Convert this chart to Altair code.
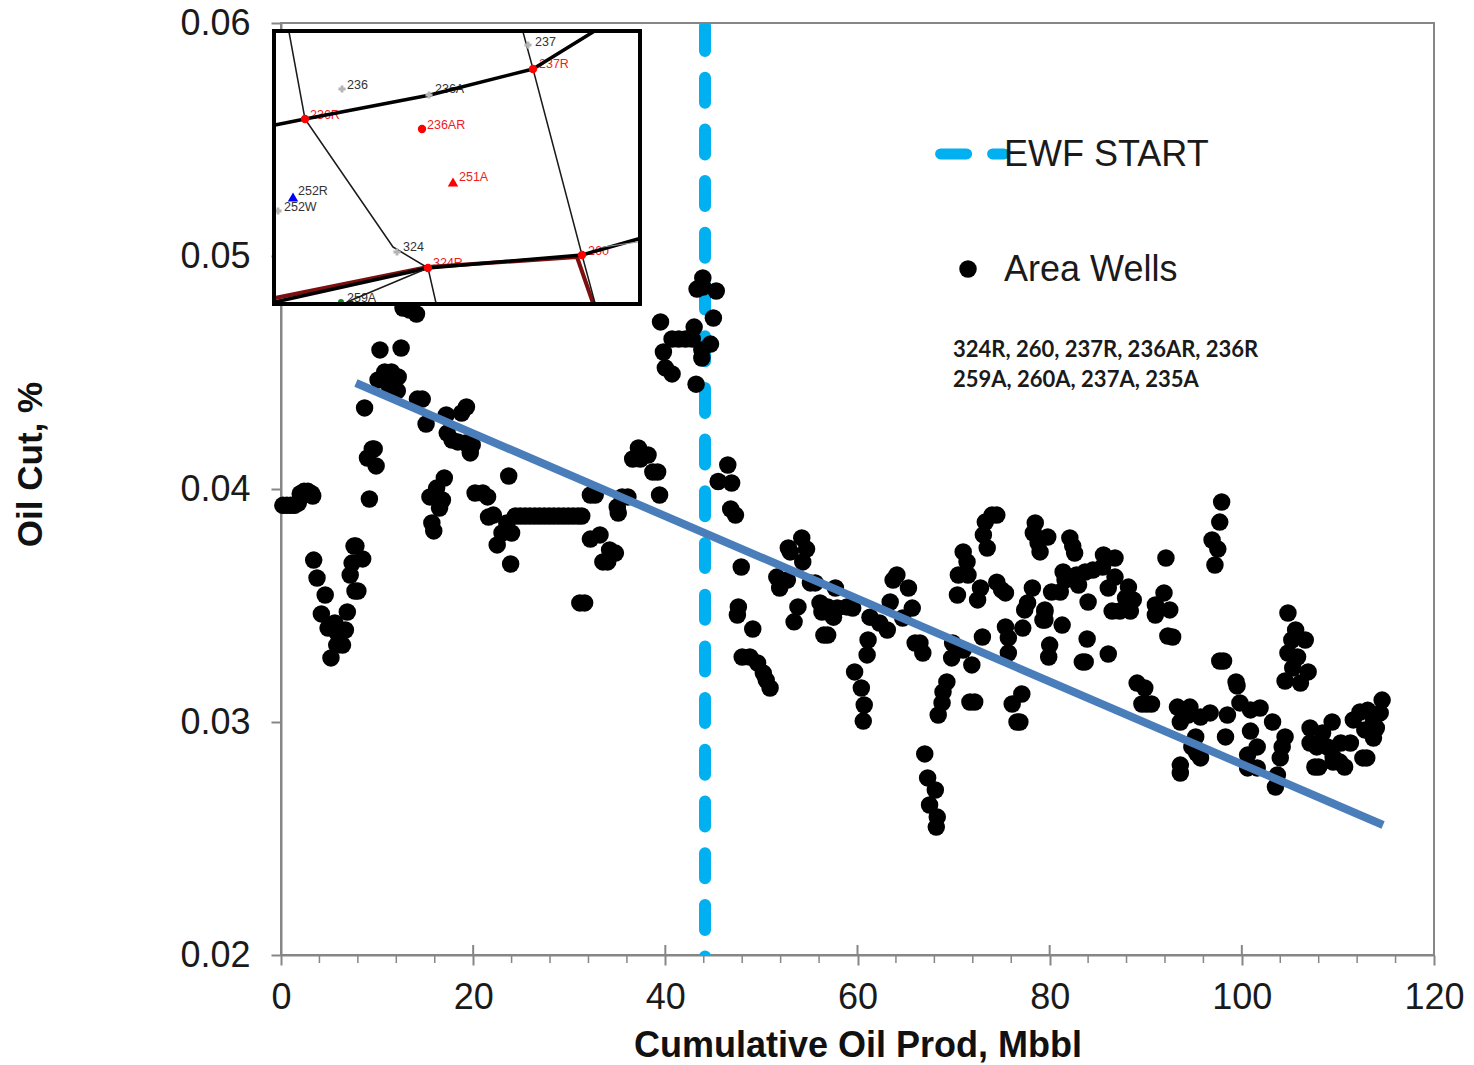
import altair as alt
import pandas as pd

# ---------- well scatter, (cumulative oil Mbbl, oil cut %) ----------
wells_early = [(0.2,.0393),(0.6,.0393),(1.0,.0393),(1.4,.0393),(1.8,.0394),(2.0,.0398),(2.4,.0399),(2.8,.0399),(3.2,.0398),(3.3,.0397),
 (3.4,.03695),(3.75,.03618),(4.6,.03545),(4.2,.03464),(4.9,.03403),(5.6,.03425),(5.8,.0333),(5.2,.03275),(6.7,.03395),(6.9,.03472),
 (6.4,.0333),(5.9,.0338),(8.0,.03562),(7.7,.03562),(7.2,.03631),(7.4,.03682),(8.5,.037),(7.6,.03755),(7.8,.03755),
 (9.2,.03957),(9.9,.04099),(9.0,.04133),(9.5,.04172),(9.7,.04172),(8.7,.04348),(10.3,.04597),(12.5,.04605),(10.1,.04468),
 (10.8,.04502),(11.5,.04502),(12.2,.04481),(11.1,.04468),(12.1,.04421),(11.3,.04438),(12.7,.04777),(13.4,.04768),(14.1,.04751)]
wells_rise = [(14.7,.04386),(14.2,.04386),(15.1,.04279),(17.2,.04318),(19.3,.04352),(18.8,.04326),(17.3,.0424),(17.8,.0421),
 (18.4,.04202),(19.2,.04197),(19.9,.04189),(19.7,.04155),(17.0,.04047),(16.2,.04004),(15.5,.03966),(16.8,.03953),(16.5,.03918),
 (15.7,.03854),(15.9,.0382),(20.2,.03983),(21.0,.03983),(21.5,.03966),(22.1,.03888),(21.6,.0388),(23.7,.04056),(24.0,.03811),
 (23.0,.03811),(22.5,.0376),(23.9,.03678),(23.5,.03854)]
wells_flat_x = [24.4,24.9,25.4,25.9,26.4,26.9,27.4,27.9,28.4,28.9,29.4,29.9,30.4,30.9,31.3]
wells_flat_y = [.03884]*15
wells_mid = [(32.7,.03974),(32.2,.03974),(32.2,.03785),(33.2,.03803),(34.8,.03725),(34.2,.03738),(33.5,.03687),(34.0,.03687),
 (31.6,.03511),(31.1,.03511),(36.1,.03966),(35.5,.03966),(35.1,.03897),(35.0,.03923),(37.2,.04176),(38.2,.04146),(36.6,.04129),
 (37.4,.04129),(38.7,.04073),(39.2,.04073),(39.4,.03974),(39.5,.04717),(43.0,.04695),(45.0,.04734),(40.7,.04644),(41.4,.04644),
 (42.1,.04644),(42.8,.04644),(39.8,.04588),(40.0,.0452),(40.7,.04494),(43.2,.0445),(43.8,.04562),(43.8,.04597),(44.7,.04622),
 (43.9,.04906),(43.9,.04867),(43.3,.04858),(45.3,.0485)]
wells_after = [(46.5,.04103),(45.5,.04032),(46.9,.04026),(46.8,.03914),(47.3,.03888),(47.9,.03665),(47.6,.03494),(47.5,.03459),
 (49.1,.03399),(48.0,.03279),(48.8,.03279),(49.6,.03253),(50.2,.0321),(50.9,.03146),(50.5,.0318),(52.8,.03747),(53.0,.0373),
 (54.2,.0379),(54.7,.03742),(54.3,.03687),(51.6,.03622),(52.7,.03609),(51.9,.03575),(53.8,.03494),(53.4,.0343),(55.1,.03597),
 (55.6,.03597),(57.7,.03575),(56.1,.03511),(56.9,.03494),(57.9,.03489),(56.3,.03472),(57.5,.0345),(58.9,.03494),(59.5,.03489),
 (56.9,.03373),(56.5,.03373),(64.1,.03631),(63.7,.03609),(65.3,.03575),(63.4,.03515),(61.3,.0345),(62.3,.03425),(63.1,.03395),
 (65.7,.03489),(64.7,.03446),(61.1,.03352),(61.0,.03288),(59.7,.03215),(60.4,.03146),(60.7,.03073),(60.6,.03004),(66.0,.03339),
 (66.5,.03339),(66.8,.03296),(67.0,.02863),(67.3,.0276),(68.1,.02708),(67.5,.02644),(68.3,.02592),(68.2,.02549),(69.3,.03172),
 (68.9,.03129),(68.8,.03082),(68.4,.0303),(69.9,.03339),(69.8,.03275),(71.0,.03309),(71.9,.03245),(73.0,.03365),(72.2,.03086),(71.7,.03086)]
wells_late = [(76.1,.03077),(77.1,.0312),(76.9,.03),(76.6,.03),(70.4,.03545),(71.0,.0373),(71.4,.03687),(70.5,.03631),(71.5,.03631),
 (72.8,.03575),(72.5,.03524),(73.5,.03747),(73.1,.03803),(73.3,.03858),(74.0,.03888),(74.5,.03888),(75.4,.03408),(75.7,.03361),
 (75.7,.03296),(74.5,.036),(75.0,.03567),(75.4,.03554),(77.2,.03403),(78.2,.03575),(77.7,.03511),(77.4,.03481),(79.5,.03472),
 (79.3,.03438),(80.0,.0333),(79.9,.03279),(78.5,.03854),(78.3,.03811),(78.8,.03768),(79.0,.0373),(79.8,.03794),(82.1,.0379),
 (82.6,.03725),(82.4,.03755),(81.4,.03644),(85.6,.03717),(86.8,.03704),(84.5,.03652),(83.7,.03644),(82.8,.03631),(85.5,.03665),
 (86.8,.03622),(86.1,.03575),(84.0,.03515),(83.0,.03588),(81.6,.03609),(80.2,.03558),(81.1,.03558),(79.5,.03481),(79.5,.03438),
 (81.3,.03416),(83.9,.03356),(86.1,.03292),(83.4,.03258),(83.7,.03258),(88.2,.03579),(88.7,.03524),(86.5,.03476),(87.3,.03476),
 (88.4,.03476),(87.9,.03532),(91.9,.03554),(91.0,.03502),(91.0,.03459),(92.5,.03481),(92.1,.03704),(92.8,.03365),(92.3,.03369)]
wells_end = [(97.9,.03944),(97.7,.03858),(96.9,.03781),(97.5,.03742),(97.2,.03674),(104.8,.03468),(105.6,.03395),(106.6,.03352),
 (105.2,.03352),(104.8,.03296),(105.8,.03279),(106.9,.03215),(105.3,.03232),(104.5,.03176),(106.1,.03167),(89.1,.03167),(89.9,.03146),
 (89.6,.03077),(90.6,.03077),(90.1,.03077),(98.1,.03262),(97.7,.03262),(99.4,.03172),(99.5,.03155),(93.3,.03064),(94.6,.03064),
 (93.9,.03039),(96.7,.03039),(95.7,.03021),(93.6,.03),(94.4,.0303),(95.2,.02936),(94.8,.02893),(95.7,.02846),(95.3,.02867),
 (93.6,.02815),(93.6,.02781),(98.3,.02936),(98.5,.0303),(99.8,.03082),(100.9,.03052),(101.9,.0306),(100.9,.02961),(103.2,.03),
 (104.5,.02936),(104.2,.02893),(104.0,.02846),(101.6,.02893),(100.6,.02858),(100.6,.02803),(101.6,.02803),(103.7,.02773),(103.5,.02721),
 (107.1,.02974),(109.4,.03),(108.4,.02953),(107.1,.0291),(107.8,.02893),(107.6,.02807),(108.0,.02807),(108.9,.02893),(109.5,.0285),
 (109.5,.02828),(110.7,.02807),(110.2,.02828),(111.3,.0291),(110.3,.0291),(112.6,.02846),(113.0,.02846),(113.7,.02931),(114.0,.02974),
 (111.6,.03009),(112.3,.03043),(113.1,.0305),(113.7,.03009),(112.8,.02966),(114.4,.03039),(114.6,.03094)]

trend_x = [7.8, 114.7]
trend_y = [.04455, .02558]
ewf_x = 44.13

x_major = [0, 20, 40, 60, 80, 100, 120]
x_minor = [4, 8, 12, 16, 24, 28, 32, 36, 44, 48, 52, 56, 64, 68, 72, 76, 84, 88, 92, 96, 104, 108, 112, 116]
y_major = [0.02, 0.03, 0.04, 0.05, 0.06]

# ---------- inset map, in the map's own units (origin top-left, 366 x 273) ----------
map_w, map_h = 366, 273
fault_thick = [[(1,94),(31,88),(156,64),(259,38),(319,1)],
               [(1,271),(154,237),(308,224),(364,208)]]
fault_thin = [[(15,1),(31,88),(119,216),(154,237),(162,272)],
              [(249,1),(259,38),(308,224),(321,272)],
              [(73,271),(154,237)]]
fault_gray = [[(329,216),(364,211)]]
fault_red = [[(1,267),(154,236),(303,226),(319,272)]]
red_wells = [(31,88),(148,98),(259,38),(154,237),(308,224)]
red_tri = [(179,151)]
blue_tri = [(19,166)]
green_wells = [(67,271)]
gray_wells = [(68,58),(155,64),(254,14),(123,221),(4,180)]
labels_dark = [("236",73,54),("236A",161,58),("237",261,11),("252R",24,160),("252W",10,176),("324",129,216),("259A",73,267)]
labels_red = [("237R",265,33),("236R",36,84),("236AR",153,94),("251A",185,146),("324R",159,232),("260",314,220)]

FONT = "Liberation Sans"
GRAY = "#868686"
xs = alt.Scale(domain=[0, 120], nice=False, zero=False)
ys = alt.Scale(domain=[0.02, 0.06], nice=False, zero=False)
x_axis = alt.Axis(
    values=x_major, title="Cumulative Oil Prod, Mbbl", grid=False, format="d",
    labelFont=FONT, labelFontSize=36, labelColor="#1a1a1a", labelPadding=15, labelFlush=False, labelOverlap=False,
    tickColor=GRAY, tickSize=10, tickWidth=2, domainColor=GRAY, domainWidth=2,
    titleFont=FONT, titleFontSize=36, titleFontWeight="bold", titleColor="#111111", titlePadding=13)
y_axis = alt.Axis(
    values=y_major, title="Oil Cut, %", grid=False, format=".2f",
    labelFont=FONT, labelFontSize=36, labelColor="#1a1a1a", labelPadding=21, labelOverlap=False,
    tickColor=GRAY, tickSize=10, tickWidth=2, domainColor=GRAY, domainWidth=2,
    titleFont=FONT, titleFontSize=35, titleFontWeight="bold", titleColor="#111111", titlePadding=131, titleY=441)
X = alt.X("x:Q", scale=xs, axis=x_axis)
Y = alt.Y("y:Q", scale=ys, axis=y_axis)

PX_X, PX_Y = 1153 / 120, 932 / 0.04
def mx(v): return (v - 7) / PX_X
def my(v): return 0.06 - (v + 8) / PX_Y
def map_df(pts): return pd.DataFrame({"x": [mx(p[0]) for p in pts], "y": [my(p[1]) for p in pts], "i": range(len(pts))})

def polylines(groups, color, width):
    return [alt.Chart(map_df(g)).mark_line(color=color, strokeWidth=width, strokeCap="round", strokeJoin="round", interpolate="linear")
            .encode(x=X, y=Y, order="i:Q") for g in groups]

def map_points(pts, shape, color, size):
    return alt.Chart(map_df(pts)).mark_point(shape=shape, filled=True, color=color, size=size, opacity=1, strokeWidth=0).encode(x=X, y=Y)

def map_text(rows, color):
    df = pd.DataFrame({"t": [r[0] for r in rows], "x": [mx(r[1]) for r in rows], "y": [my(r[2]) for r in rows]})
    return alt.Chart(df).mark_text(font=FONT, fontSize=12.5, color=color, align="left", baseline="middle").encode(x=X, y=Y, text="t:N")

base_df = pd.DataFrame({"x": [ewf_x], "y": [0.06], "y2": [0.0199]})
ewf = alt.Chart(base_df).mark_rule(color="#00b0f0", strokeWidth=12, strokeCap="round", strokeDash=[25, 26.7], strokeDashOffset=48.7, clip=True).encode(
    x=X, y=Y, y2="y2:Q")

minor_ticks = alt.Chart(pd.DataFrame({"x": x_minor})).mark_rule(color=GRAY, strokeWidth=1.5).encode(
    x=X, y=alt.value(932), y2=alt.value(940))
inner_ticks = alt.Chart(pd.DataFrame({"x": x_major[:-1]})).mark_rule(color=GRAY, strokeWidth=2).encode(
    x=X, y=alt.value(922), y2=alt.value(932))

all_wells = wells_early + wells_rise + list(zip(wells_flat_x, wells_flat_y)) + wells_mid + wells_after + wells_late + wells_end
wells_df = pd.DataFrame(all_wells, columns=["x", "y"])
wells = alt.Chart(wells_df).mark_circle(color="black", size=306, opacity=1).encode(x=X, y=Y)

trend = alt.Chart(pd.DataFrame({"x": trend_x, "y": trend_y})).mark_line(color="#4a7ebb", strokeWidth=8, strokeCap="butt").encode(x=X, y=Y)

box_df = pd.DataFrame({"x": [mx(0)], "x2": [mx(map_w)], "y": [my(0)], "y2": [my(map_h)]})
box_fill = alt.Chart(box_df).mark_rect(color="white").encode(x=X, x2="x2:Q", y=Y, y2="y2:Q")
box_edge = alt.Chart(box_df).mark_rect(fillOpacity=0, fill="white", stroke="black", strokeWidth=4).encode(x=X, x2="x2:Q", y=Y, y2="y2:Q")

legend_line = alt.Chart(pd.DataFrame({"x": [68.65, 75.25], "y": [0.05438, 0.05438]})).mark_line(
    color="#00b0f0", strokeWidth=11, strokeCap="round", strokeDash=[26, 26]).encode(x=X, y=Y)
legend_dot = alt.Chart(pd.DataFrame({"x": [71.5], "y": [0.04944]})).mark_circle(color="black", size=306, opacity=1).encode(x=X, y=Y)
legend_text = alt.Chart(pd.DataFrame({"t": ["EWF START", "Area Wells"], "x": [75.25, 75.25], "y": [0.05432, 0.04938]})).mark_text(
    font=FONT, fontSize=36, color="#1a1a1a", align="left", baseline="middle").encode(x=X, y=Y, text="t:N")
note_text = alt.Chart(pd.DataFrame({"t": ["324R, 260, 237R, 236AR, 236R", "259A, 260A, 237A, 235A"], "x": [69.94, 69.94], "y": [0.04597, 0.04468]})).mark_text(
    font="Lato", fontWeight="bold", fontSize=22, color="#1a1a1a", align="left", baseline="middle").encode(x=X, y=Y, text="t:N")

layers = [ewf, minor_ticks, inner_ticks, wells, trend, box_fill,
          map_text(labels_dark, "#333333"), map_text(labels_red, "#ee1c1c")]
layers += polylines(fault_red, "#7d0f0f", 4)
layers += polylines(fault_thick, "#000000", 3.5)
layers += polylines(fault_thin, "#1a1a1a", 1.5)
layers += polylines(fault_gray, "#999999", 1)
layers += [map_points(gray_wells, "cross", "#b5b5b5", 50),
           map_points(red_wells, "circle", "#ff0000", 70),
           map_points(red_tri, "triangle-up", "#ff0000", 110),
           map_points(blue_tri, "triangle-up", "#0000ff", 110),
           map_points(green_wells, "circle", "#0a8a0a", 36),
           box_edge, legend_line, legend_dot, legend_text, note_text]

chart = alt.layer(*layers).properties(
    width=1153, height=932,
    autosize=alt.AutoSizeParams(type="none"),
    padding={"left": 273, "top": 15, "right": 30, "bottom": 108},
    background="white",
).configure_view(stroke=GRAY, strokeWidth=2)

chart.save("out.html", embed_options={"renderer": "svg", "actions": False})
